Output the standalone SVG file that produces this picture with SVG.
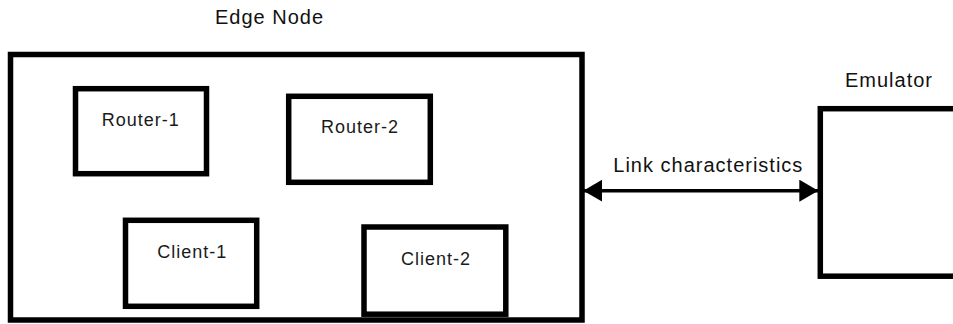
<svg xmlns="http://www.w3.org/2000/svg" width="953" height="324" viewBox="0 0 953 324">
<style>
  .box { fill: #ffffff; stroke: #000000; stroke-width: 5.5; }
  .label { font-family: "Liberation Sans", Arial, sans-serif; font-size: 20px; letter-spacing: 1px; fill: #111111; }
  .inner { font-family: "Liberation Sans", Arial, sans-serif; font-size: 18px; letter-spacing: 1px; fill: #1a1a1a; }
  .conn { stroke: #000000; stroke-width: 3.5; fill: none; }
</style>
<defs>
  <marker id="ah" markerUnits="userSpaceOnUse" markerWidth="20" markerHeight="24" refX="19" refY="11" orient="auto-start-reverse">
    <path d="M0,0 L19,11 L0,22 Z" fill="#000000"/>
  </marker>
</defs>
<rect width="953" height="324" fill="#ffffff"/>
<g id="edge-node">
  <rect class="box" x="10.5" y="54.5" width="571.5" height="265.5"/>
  <text class="label" x="215" y="24">Edge Node</text>
</g>
<g id="router-1">
  <rect class="box" x="75.5" y="88.7" width="131" height="85"/>
  <text class="inner" x="101.7" y="126">Router-1</text>
</g>
<g id="router-2">
  <rect class="box" x="288.7" y="96.3" width="141.6" height="86"/>
  <text class="inner" x="321" y="133.3">Router-2</text>
</g>
<g id="client-1">
  <rect class="box" x="125.5" y="220.3" width="131.2" height="86"/>
  <text class="inner" x="157.3" y="258.3">Client-1</text>
</g>
<g id="client-2">
  <rect class="box" x="364" y="227" width="141.8" height="87.2"/>
  <text class="inner" x="401" y="265">Client-2</text>
</g>
<g id="emulator">
  <rect class="box" x="820.3" y="108.7" width="150" height="167.5"/>
  <text class="label" x="845" y="87.3">Emulator</text>
</g>
<g id="connectors">
  <line class="conn" x1="583.3" y1="190.7" x2="818.3" y2="190.7" marker-start="url(#ah)" marker-end="url(#ah)"/>
  <text class="label" x="613.3" y="171.7">Link characteristics</text>
</g>
</svg>
